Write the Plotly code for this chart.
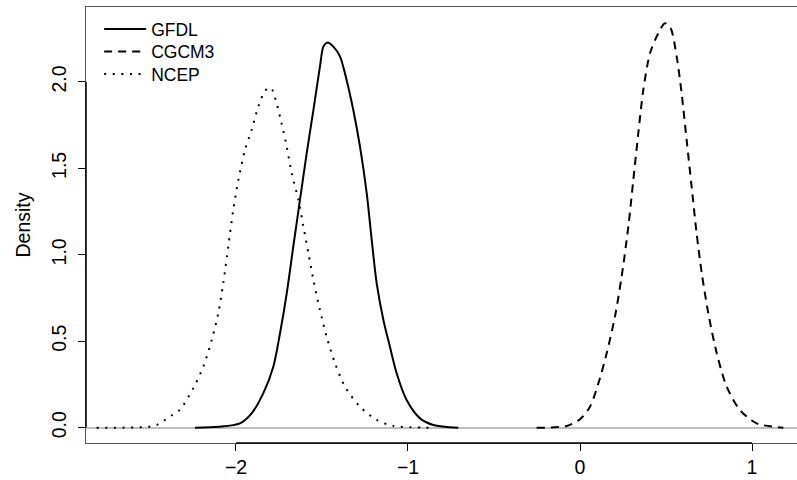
import plotly.graph_objects as go

# ---- data ----
series_names = ["GFDL", "CGCM3", "NCEP"]

gfdl_x = [-2.238, -2.10, -1.977, -1.909, -1.841, -1.783, -1.744, -1.705, -1.667, -1.628, -1.589,
          -1.550, -1.512, -1.492, -1.469, -1.434, -1.395, -1.357, -1.318, -1.279, -1.240,
          -1.211, -1.182, -1.143, -1.105, -1.066, -1.008, -0.930, -0.853, -0.708]
gfdl_y = [0.0, 0.005, 0.025, 0.083, 0.200, 0.353, 0.546, 0.777, 1.047, 1.317, 1.587,
          1.837, 2.088, 2.204, 2.227, 2.204, 2.146, 2.011, 1.837, 1.625, 1.356,
          1.086, 0.835, 0.623, 0.468, 0.315, 0.160, 0.054, 0.016, 0.0]

cgcm3_x = [-0.252, -0.077, 0.0, 0.058, 0.107, 0.155, 0.203, 0.242, 0.281, 0.310, 0.339,
           0.368, 0.407, 0.455, 0.494, 0.527, 0.562, 0.591, 0.620, 0.649, 0.678,
           0.708, 0.746, 0.795, 0.853, 0.930, 1.027, 1.182]
cgcm3_y = [0.0, 0.010, 0.049, 0.121, 0.257, 0.430, 0.642, 0.873, 1.163, 1.433, 1.703,
           1.953, 2.165, 2.281, 2.339, 2.310, 2.146, 1.934, 1.664, 1.394, 1.124,
           0.893, 0.662, 0.430, 0.237, 0.102, 0.025, 0.0]

ncep_x = [-2.81, -2.51, -2.461, -2.419, -2.378, -2.335, -2.306, -2.248, -2.190, -2.141,
          -2.103, -2.074, -2.045, -2.016, -1.986, -1.948, -1.909, -1.870, -1.831, -1.798,
          -1.764, -1.735, -1.705, -1.676, -1.637, -1.608, -1.579, -1.550, -1.512, -1.473,
          -1.424, -1.366, -1.279, -1.182, -1.085, -0.843]
ncep_y = [0.0, 0.005, 0.016, 0.040, 0.069, 0.095, 0.131, 0.228, 0.353, 0.507,
          0.662, 0.835, 1.047, 1.259, 1.433, 1.606, 1.722, 1.857, 1.949, 1.966,
          1.876, 1.760, 1.625, 1.471, 1.317, 1.163, 1.009, 0.854, 0.681, 0.526,
          0.372, 0.237, 0.121, 0.045, 0.010, 0.0]

x_ticks = [-2, -1, 0, 1]
x_tick_text = ["\u22122", "\u22121", "0", "1"]
y_ticks = [0.0, 0.5, 1.0, 1.5, 2.0]
x_range = [-2.872, 1.2616]
y_range = [-0.0885, 2.433]

FONT = "Liberation Sans, Arial, Helvetica, sans-serif"
AXIS_FS = 19.5
LEG_FS = 17.5

fig = go.Figure()
dashes = ["solid", "8px,6px", "2px,6.6px"]
legend_ids = ["legend", "legend2", "legend3"]
legend_y = [0.9491, 0.8975, 0.8459]

for name, xs, ys, dash, lid in zip(series_names, [gfdl_x, cgcm3_x, ncep_x],
                                   [gfdl_y, cgcm3_y, ncep_y], dashes, legend_ids):
    fig.add_trace(go.Scatter(
        x=xs, y=ys, mode="lines", name=name, legend=lid,
        line=dict(color="black", width=2, dash=dash, shape="spline", smoothing=0.8),
    ))

leg_common = dict(xanchor="left", yanchor="middle", bgcolor="rgba(0,0,0,0)",
                  font=dict(size=LEG_FS, family=FONT, color="black"),
                  itemwidth=42, borderwidth=0)
layout_legends = {lid: dict(x=0.0185, y=ly, **leg_common) for lid, ly in zip(legend_ids, legend_y)}

fig.update_layout(
    width=797, height=480,
    margin=dict(l=86, r=0, t=7, b=37),
    paper_bgcolor="white", plot_bgcolor="white",
    font=dict(family=FONT, size=AXIS_FS, color="black"),
    showlegend=True,
    **layout_legends,
)
fig.update_xaxes(
    range=x_range, tickvals=x_ticks, ticktext=x_tick_text,
    showgrid=False, zeroline=False,
    showline=True, linecolor="#555555", linewidth=1, mirror=True,
    ticks="outside", ticklen=7, tickcolor="black",
    tickfont=dict(size=AXIS_FS),
)
fig.update_yaxes(
    range=y_range, tickvals=y_ticks, tickformat=".1f",
    showgrid=False, zeroline=True, zerolinecolor="#BEBEBE", zerolinewidth=1.5,
    showline=True, linecolor="#555555", linewidth=1, mirror=False,
    ticks="outside", ticklen=7, tickcolor="black", tickangle=-90,
    tickfont=dict(size=AXIS_FS), ticklabelstandoff=4,
    title=dict(text="Density", font=dict(size=AXIS_FS), standoff=12),
)
# axis segments spanning the tick range (R-style axis lines)
fig.add_shape(type="line", xref="x", yref="paper", x0=x_ticks[0], x1=x_ticks[-1], y0=0, y1=0,
              line=dict(color="black", width=1.5))
fig.add_shape(type="line", xref="paper", yref="y", x0=0, x1=0, y0=y_ticks[0], y1=y_ticks[-1],
              line=dict(color="black", width=1.5))

fig.write_html("out.html")
